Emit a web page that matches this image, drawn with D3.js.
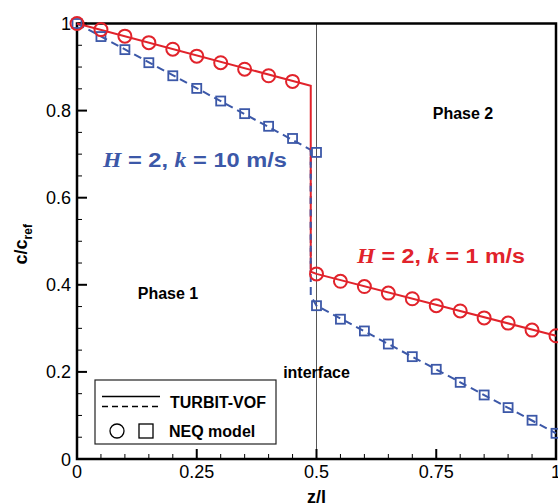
<!DOCTYPE html>
<html lang="en">
<head>
  <meta charset="UTF-8">
  <title>Concentration profile</title>
  <script src="https://d3js.org/d3.v7.min.js"></script>
  <style>
    body { margin: 0; background: #fff; }
    svg { display: block; font-family: Arial, "Liberation Sans", sans-serif; }
  </style>
</head>
<body>
<svg id="chart" width="558" height="504"></svg>
<script>
  // NEQ model points (markers)
  const neqZ1 = [0, 0.05, 0.1, 0.15, 0.2, 0.25, 0.3, 0.35, 0.4, 0.45];
  const neqRed1 = [1.0, 0.986, 0.971, 0.956, 0.941, 0.925, 0.910, 0.895, 0.880, 0.867];
  const neqBlue1 = [1.0, 0.970, 0.940, 0.910, 0.880, 0.851, 0.822, 0.793, 0.764, 0.736];
  const neqZ2 = [0.5, 0.55, 0.6, 0.65, 0.7, 0.75, 0.8, 0.85, 0.9, 0.95, 1.0];
  const neqRed2 = [0.425, 0.408, 0.396, 0.381, 0.368, 0.352, 0.340, 0.324, 0.312, 0.296, 0.283];
  const neqBlue2 = [0.352, 0.321, 0.294, 0.264, 0.235, 0.206, 0.176, 0.147, 0.118, 0.089, 0.059];
  // extra blue marker at the interface, phase 1 side
  const neqBlueInterface = { z: 0.5, c: 0.704 };

  // TURBIT-VOF profiles (lines)
  const vofZ = [0, 0.488, 0.488, 0.5, 1.0];
  const vofRed = [1.0, 0.857, 0.43, 0.425, 0.283];
  const vofBlue = [1.0, 0.71, 0.375, 0.352, 0.059];

  const xTicks = [0, 0.25, 0.5, 0.75, 1];
  const yTicks = [0, 0.2, 0.4, 0.6, 0.8, 1];

  const red = "#e1232b";
  const blue = "#3c58a8";

  const margin = { top: 23.5, right: 2, bottom: 45, left: 77 };
  const width = 558, height = 504;

  const x = d3.scaleLinear().domain([0, 1]).range([margin.left, width - margin.right]);
  const y = d3.scaleLinear().domain([0, 1]).range([height - margin.bottom, margin.top]);

  const svg = d3.select("#chart");

  // interface line
  svg.append("line")
     .attr("x1", x(0.5)).attr("x2", x(0.5))
     .attr("y1", y(1)).attr("y2", y(0))
     .attr("stroke", "#555").attr("stroke-width", 1);

  // frame
  svg.append("rect")
     .attr("x", x(0)).attr("y", y(1))
     .attr("width", x(1) - x(0)).attr("height", y(0) - y(1))
     .attr("fill", "none").attr("stroke", "#000").attr("stroke-width", 2.5);

  // ticks, pointing inwards (major every 0.2 / 0.25, minor every 0.05)
  const minor = d3.range(0, 1.0001, 0.05);
  const isMajY = d => Math.abs(d * 5 - Math.round(d * 5)) < 1e-6;
  const isMajX = d => Math.abs(d * 4 - Math.round(d * 4)) < 1e-6;
  svg.append("g").selectAll("line").data(minor).join("line")
     .attr("x1", x(0)).attr("x2", d => x(0) + (isMajY(d) ? 10 : 5))
     .attr("y1", d => y(d)).attr("y2", d => y(d))
     .attr("stroke", "#000").attr("stroke-width", d => (isMajY(d) ? 2 : 1));
  svg.append("g").selectAll("line").data(minor).join("line")
     .attr("y1", y(0)).attr("y2", d => y(0) - (isMajX(d) ? 10 : 5))
     .attr("x1", d => x(d)).attr("x2", d => x(d))
     .attr("stroke", "#000").attr("stroke-width", d => (isMajX(d) ? 2 : 1));

  // tick labels
  svg.append("g").selectAll("text").data(yTicks).join("text")
     .attr("x", x(0) - 6).attr("y", d => y(d) + 6.5)
     .attr("text-anchor", "end").attr("font-size", 18)
     .text(d => d3.format("~g")(d));
  svg.append("g").selectAll("text").data(xTicks).join("text")
     .attr("x", d => x(d)).attr("y", y(0) + 19)
     .attr("text-anchor", "middle").attr("font-size", 18)
     .text(d => d3.format("~g")(d));

  // axis titles
  const yt = svg.append("text")
     .attr("transform", `translate(27,${y(0.5) + 3}) rotate(-90)`)
     .attr("text-anchor", "middle").attr("font-size", 18).attr("font-weight", "bold");
  yt.append("tspan").text("c/c");
  yt.append("tspan").attr("font-size", 12).attr("dy", 5).text("ref");
  svg.append("text")
     .attr("x", x(0.5)).attr("y", 503)
     .attr("text-anchor", "middle").attr("font-size", 18).attr("font-weight", "bold")
     .text("z/l");

  // lines
  const line = d3.line().x(d => x(d[0])).y(d => y(d[1]));
  svg.append("path")
     .datum(vofZ.map((z, i) => [z, vofBlue[i]]))
     .attr("d", line).attr("fill", "none")
     .attr("stroke", blue).attr("stroke-width", 2).attr("stroke-dasharray", "8,5");
  svg.append("path")
     .datum(vofZ.map((z, i) => [z, vofRed[i]]))
     .attr("d", line).attr("fill", "none")
     .attr("stroke", red).attr("stroke-width", 2);
  // blue dashes drawn over the shared vertical drop
  svg.append("path")
     .datum([[vofZ[1], vofBlue[1]], [vofZ[2], vofRed[2]]])
     .attr("d", line).attr("fill", "none")
     .attr("stroke", blue).attr("stroke-width", 2).attr("stroke-dasharray", "6,6");

  // markers
  const bluePts = neqZ1.map((z, i) => [z, neqBlue1[i]])
     .concat([[neqBlueInterface.z, neqBlueInterface.c]])
     .concat(neqZ2.map((z, i) => [z, neqBlue2[i]]));
  const redPts = neqZ1.map((z, i) => [z, neqRed1[i]])
     .concat(neqZ2.map((z, i) => [z, neqRed2[i]]));

  svg.append("g").selectAll("rect").data(bluePts).join("rect")
     .attr("x", d => x(d[0]) - 4.5).attr("y", d => y(d[1]) - 4.5)
     .attr("width", 9).attr("height", 9)
     .attr("fill", "none").attr("stroke", blue).attr("stroke-width", 1.8);
  svg.append("g").selectAll("circle").data(redPts).join("circle")
     .attr("cx", d => x(d[0])).attr("cy", d => y(d[1])).attr("r", 6.5)
     .attr("fill", "none").attr("stroke", red).attr("stroke-width", 2);

  // annotations
  function caseLabel(px, py, color, kVal, len) {
    const t = svg.append("text").attr("x", px).attr("y", py)
       .attr("fill", color).attr("font-size", 20).attr("font-weight", "bold")
       .attr("textLength", len).attr("lengthAdjust", "spacingAndGlyphs");
    t.append("tspan").attr("font-family", "'Liberation Serif', 'DejaVu Serif', serif").attr("font-style", "italic").text("H");
    t.append("tspan").text(" = 2, ");
    t.append("tspan").attr("font-family", "'Liberation Serif', 'DejaVu Serif', serif").attr("font-style", "italic").text("k");
    t.append("tspan").text(` = ${kVal} m/s`);
  }
  caseLabel(103, 167, blue, 10, 184);
  caseLabel(357, 263, red, 1, 168);

  svg.append("text").attr("x", 463).attr("y", 119).attr("text-anchor", "middle")
     .attr("font-size", 16).attr("font-weight", "bold").text("Phase 2");
  svg.append("text").attr("x", 168).attr("y", 299).attr("text-anchor", "middle")
     .attr("font-size", 16).attr("font-weight", "bold").text("Phase 1");
  svg.append("text").attr("x", x(0.5)).attr("y", 378).attr("text-anchor", "middle")
     .attr("font-size", 16).attr("font-weight", "bold").text("interface");

  // legend
  const lg = svg.append("g");
  lg.append("rect").attr("x", 95).attr("y", 380).attr("width", 181).attr("height", 64)
    .attr("fill", "#fff").attr("stroke", "#222").attr("stroke-width", 1.2);
  lg.append("line").attr("x1", 102).attr("x2", 160).attr("y1", 396.5).attr("y2", 396.5)
    .attr("stroke", "#000").attr("stroke-width", 1.5);
  lg.append("line").attr("x1", 102).attr("x2", 160).attr("y1", 406.5).attr("y2", 406.5)
    .attr("stroke", "#000").attr("stroke-width", 1.5).attr("stroke-dasharray", "6,4");
  lg.append("text").attr("x", 170).attr("y", 408).attr("font-size", 16).attr("font-weight", "bold").text("TURBIT-VOF");
  lg.append("circle").attr("cx", 117).attr("cy", 431).attr("r", 7)
    .attr("fill", "none").attr("stroke", "#000").attr("stroke-width", 1.3);
  lg.append("rect").attr("x", 139).attr("y", 424).attr("width", 14).attr("height", 14)
    .attr("fill", "none").attr("stroke", "#000").attr("stroke-width", 1.3);
  lg.append("text").attr("x", 169).attr("y", 437).attr("font-size", 16).attr("font-weight", "bold").text("NEQ model");
</script>
</body>
</html>
